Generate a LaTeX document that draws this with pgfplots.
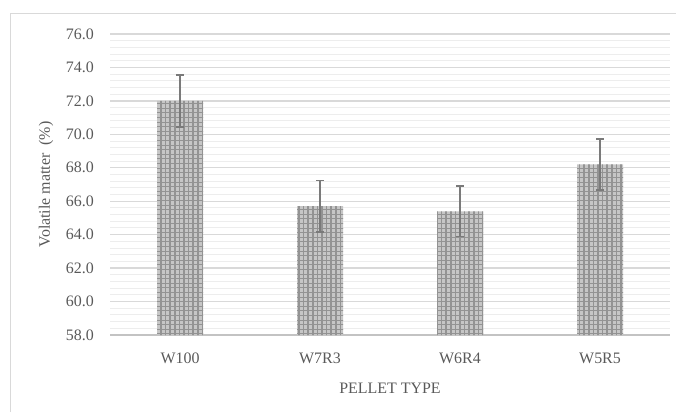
\documentclass[border=0pt]{standalone}
\usepackage{pgfplots}
\pgfplotsset{compat=1.18}
\usetikzlibrary{patterns}
\usepackage{fontspec}
\setmainfont{Liberation Serif}

\definecolor{txtgray}{HTML}{595959}
\definecolor{majgrid}{HTML}{D9D9D9}
\definecolor{mingrid}{HTML}{EDEDED}
\definecolor{framegray}{HTML}{D9D9D9}
\definecolor{errgray}{HTML}{7A7A7A}

% fine square mesh used to texture the bars
\pgfdeclarepatternformonly{barmesh}{\pgfqpoint{-1bp}{-1bp}}{\pgfqpoint{5.6bp}{5.6bp}}{\pgfqpoint{4.6bp}{4.6bp}}{%
  \pgfsetlinewidth{1.6bp}
  \pgfpathmoveto{\pgfqpoint{0bp}{0bp}}\pgfpathlineto{\pgfqpoint{0bp}{4.6bp}}
  \pgfusepath{stroke}
  \pgfsetlinewidth{1.0bp}
  \pgfpathmoveto{\pgfqpoint{0bp}{0bp}}\pgfpathlineto{\pgfqpoint{4.6bp}{0bp}}
  \pgfusepath{stroke}
}

\pgfplotstableread{
x  vm    err
0  72.0  1.55
1  65.7  1.55
2  65.4  1.52
3  68.2  1.52
}\volatile

\begin{document}
\begin{tikzpicture}[x=1bp,y=1bp]
\useasboundingbox (0,0) rectangle (676,412);
\draw[framegray, line width=1bp] (10,0) -- (10,398) -- (676,398);
\begin{axis}[
  at={(110bp,77bp)}, anchor=south west,
  scale only axis, width=560bp, height=301bp,
  xmin=-0.5, xmax=3.5, ymin=58, ymax=76,
  xtick={0,1,2,3}, xticklabels={W100,W7R3,W6R4,W5R5},
  ytick={58,60,...,76},
  minor y tick num=4,
  yticklabel={\pgfmathprintnumber[fixed,fixed zerofill,precision=1]{\tick}},
  /pgf/number format/assume math mode=true,
  font=\fontsize{16}{18}\selectfont,
  tick label style={text=txtgray},
  xticklabel style={anchor=base, inner sep=0pt, yshift=-28.5bp},
  yticklabel style={anchor=east, inner sep=0pt, xshift=-16bp},
  major tick length=0pt, minor tick length=0pt,
  ymajorgrids, yminorgrids,
  major grid style={draw=majgrid, line width=1.3bp},
  minor grid style={draw=mingrid, line width=1bp},
  axis x line*=bottom, axis y line*=left,
  y axis line style={draw=none},
  x axis line style={draw=majgrid!90!black, line width=1.3bp, -},
  xlabel={PELLET TYPE},
  ylabel={Volatile matter\ \ (\%)},
  label style={text=txtgray, font=\fontsize{16}{18}\selectfont},
  xlabel style={at={(axis description cs:0.5,-0.176)}, anchor=center},
  ylabel style={at={(axis description cs:-0.114,0.5)}, anchor=center, rotate=0},
  ybar, bar width=46bp, bar shift=0pt,
]
\addplot[
  draw=none, fill=gray!45,
  postaction={pattern=barmesh, pattern color=gray!85},
  error bars/.cd, y dir=both, y explicit,
  error bar style={draw=errgray, line width=1.6bp},
  error mark options={rotate=90, mark size=4bp, draw=errgray, line width=1.6bp},
] table[x=x, y=vm, y error=err] {\volatile};
\end{axis}
\end{tikzpicture}
\end{document}
